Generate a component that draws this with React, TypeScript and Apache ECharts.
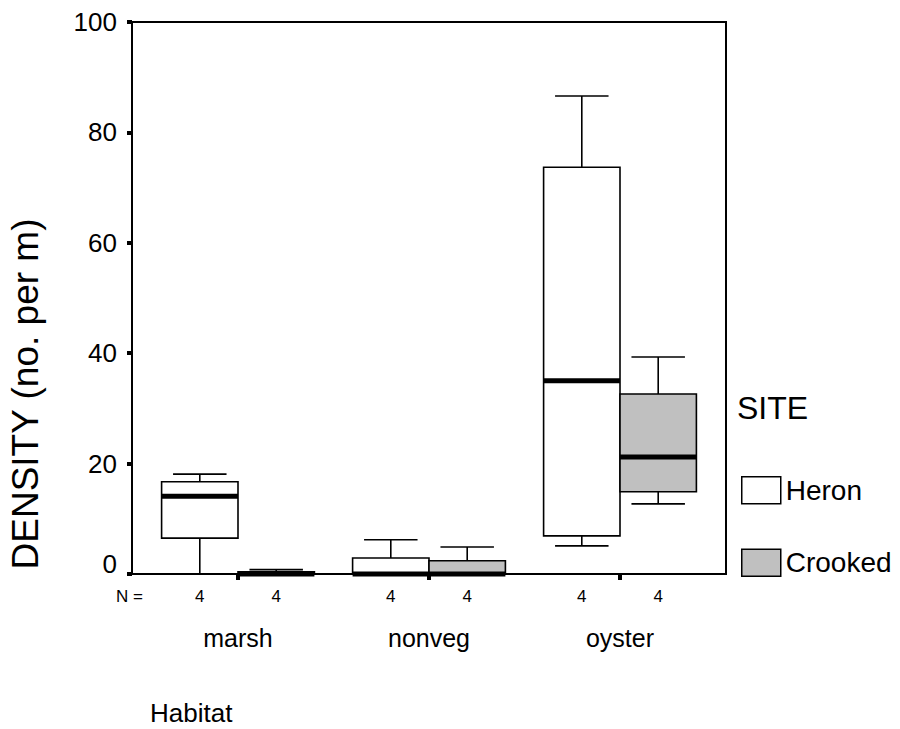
import React, { useEffect, useRef } from "react";
import * as echarts from "echarts";

const categories = ["marsh", "nonveg", "oyster"];
// [min, q1, median, q3, max]
const heronStats = [
  [0, 6.5, 14.1, 16.7, 18.1],
  [0, 0, 0, 2.9, 6.2],
  [5.1, 6.9, 35.0, 73.7, 86.6],
];
const crookedStats = [
  [0, 0, 0, 0.4, 0.8],
  [0, 0, 0, 2.4, 4.9],
  [12.7, 14.9, 21.2, 32.6, 39.3],
];
const heronN = [4, 4, 4];
const crookedN = [4, 4, 4];
const yTicks = [0, 20, 40, 60, 80, 100];
const siteNames = ["Heron", "Crooked"];
const siteColors = ["#ffffff", "#c0c0c0"];

const FONT = '"Liberation Sans", Arial, sans-serif';

function makeRender(sign: number, fill: string) {
  return (params: any, api: any) => {
    const i = api.value(0);
    const band = api.size([1, 0])[0];
    const hw = band * 0.2;
    const cx = api.coord([i, 0])[0] + sign * hw;
    const y0 = api.coord([i, 0])[1];
    const yMin = api.coord([i, api.value(1)])[1];
    const yQ1 = api.coord([i, api.value(2)])[1];
    const yMed = api.coord([i, api.value(3)])[1];
    const yQ3 = api.coord([i, api.value(4)])[1];
    const yMax = api.coord([i, api.value(5)])[1];
    const capHw = hw * 0.7;
    const ls = { stroke: "#000", lineWidth: 1.6 };
    return {
      type: "group",
      children: [
        { type: "line", shape: { x1: cx, y1: yQ3, x2: cx, y2: yMax }, style: ls },
        { type: "line", shape: { x1: cx - capHw, y1: yMax, x2: cx + capHw, y2: yMax }, style: ls },
        { type: "line", shape: { x1: cx, y1: yQ1, x2: cx, y2: yMin }, style: ls },
        { type: "line", shape: { x1: cx - capHw, y1: yMin, x2: cx + capHw, y2: yMin }, style: ls },
        {
          type: "rect",
          shape: { x: cx - hw, y: yQ3, width: hw * 2, height: Math.max(yQ1 - yQ3, 0.5) },
          style: { fill, stroke: "#000", lineWidth: 1.6 },
        },
        {
          type: "line",
          shape: { x1: cx - hw, y1: yMed, x2: cx + hw, y2: yMed },
          style: { stroke: "#000", lineWidth: 5 },
        },
        {
          type: "text",
          x: cx,
          y: y0 + 22,
          style: {
            text: String(api.value(6)),
            fill: "#000",
            fontSize: 17,
            fontFamily: FONT,
            align: "center",
            verticalAlign: "middle",
          },
        },
      ],
    };
  };
}

export default function App() {
  const ref = useRef<HTMLDivElement>(null);
  useEffect(() => {
    if (!ref.current) return;
    const chart = echarts.init(ref.current, null, { renderer: "svg" });
    const heronData = heronStats.map((d, i) => [i, ...d, heronN[i]]);
    const crookedData = crookedStats.map((d, i) => [i, ...d, crookedN[i]]);
    chart.setOption({
      animation: false,
      backgroundColor: "#ffffff",
      textStyle: { fontFamily: FONT },
      grid: { left: 142.5, top: 22, width: 573, height: 552 },
      title: [
        {
          text: "SITE",
          left: 737,
          top: 392,
          padding: 0,
          textStyle: { fontSize: 32, fontWeight: "normal", color: "#000", fontFamily: FONT },
        },
        {
          text: "Habitat",
          left: 150,
          top: 700,
          padding: 0,
          textStyle: { fontSize: 26, fontWeight: "normal", color: "#000", fontFamily: FONT },
        },
      ],
      legend: {
        orient: "vertical",
        left: 741,
        top: 476,
        padding: 0,
        itemWidth: 39,
        itemHeight: 27,
        itemGap: 44,
        icon: "rect",
        textStyle: { fontSize: 28, color: "#000", fontFamily: FONT },
        data: siteNames.map((n, k) => ({
          name: n,
          itemStyle: { color: siteColors[k], borderColor: "#000", borderWidth: 1.5 },
        })),
      },
      xAxis: {
        type: "category",
        data: categories,
        axisLine: { show: false },
        axisTick: { show: true, alignWithLabel: true, length: 6, lineStyle: { color: "#000", width: 4 } },
        axisLabel: { margin: 51, fontSize: 25, color: "#000", fontFamily: FONT },
        splitLine: { show: false },
      },
      yAxis: {
        type: "value",
        min: 0,
        max: 100,
        interval: 20,
        offset: 10.5,
        axisLine: { show: false },
        axisTick: { show: true, length: 5, lineStyle: { color: "#000", width: 4 } },
        axisLabel: {
          margin: 15,
          fontSize: 26,
          color: "#000",
          fontFamily: FONT,
          formatter: (v: number) => (v === yTicks[0] ? "{z|" + v + "}" : String(v)),
          rich: { z: { fontSize: 26, fontFamily: FONT, color: "#000", padding: [0, 0, 20, 0] } },
        },
        splitLine: { show: false },
      },
      graphic: [
        {
          type: "rect",
          z: 0,
          shape: { x: 132, y: 22, width: 594, height: 552 },
          style: { fill: "none", stroke: "#000", lineWidth: 2 },
        },
        {
          type: "text",
          x: 25,
          y: 394,
          rotation: Math.PI / 2,
          style: {
            text: "DENSITY (no. per m)",
            fill: "#000",
            fontSize: 37,
            fontFamily: FONT,
            align: "center",
            verticalAlign: "middle",
          },
        },
        {
          type: "text",
          x: 116,
          y: 596,
          style: {
            text: "N =",
            fill: "#000",
            fontSize: 17,
            fontFamily: FONT,
            align: "left",
            verticalAlign: "middle",
          },
        },
      ],
      series: [
        {
          name: siteNames[0],
          type: "custom",
          renderItem: makeRender(-1, siteColors[0]),
          encode: { x: 0, y: [1, 2, 3, 4, 5] },
          itemStyle: { color: siteColors[0], borderColor: "#000" },
          data: heronData,
          z: 3,
        },
        {
          name: siteNames[1],
          type: "custom",
          renderItem: makeRender(1, siteColors[1]),
          encode: { x: 0, y: [1, 2, 3, 4, 5] },
          itemStyle: { color: siteColors[1], borderColor: "#000" },
          data: crookedData,
          z: 3,
        },
      ],
    });
    return () => chart.dispose();
  }, []);
  return <div ref={ref} style={{ width: 900, height: 729, position: "fixed", left: 0, top: 0 }} />;
}
